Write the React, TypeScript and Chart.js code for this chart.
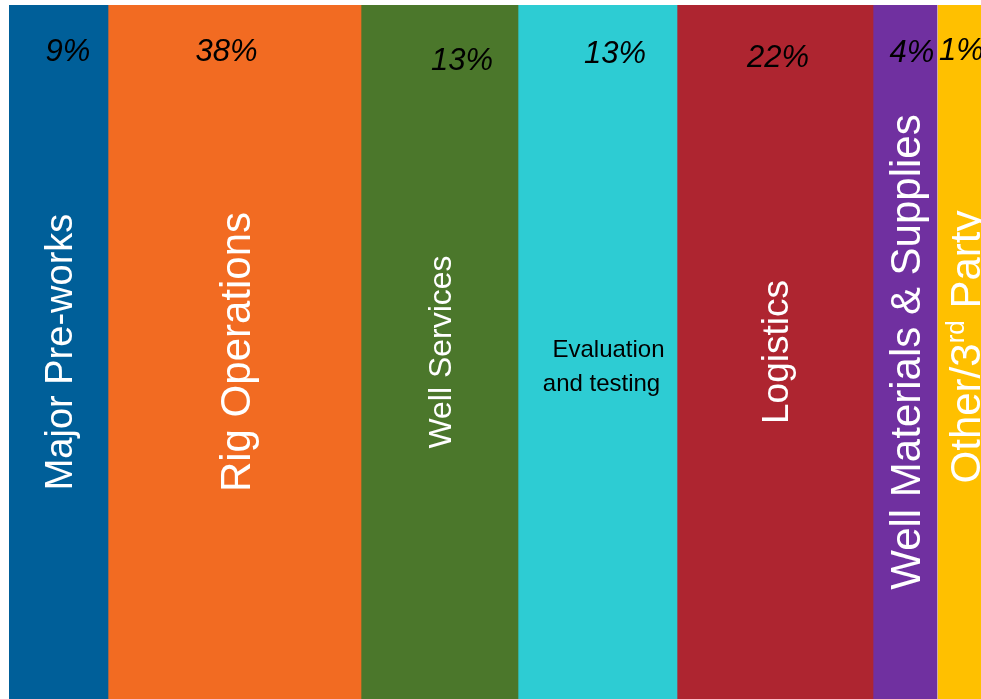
import React, { useEffect, useRef } from "react";
import { Chart, registerables } from "chart.js";

Chart.register(...registerables);

// ---- data ----
const categories = [
  "Major Pre-works",
  "Rig Operations",
  "Well Services",
  "Evaluation and testing",
  "Logistics",
  "Well Materials & Supplies",
  "Other/3rd Party",
];
const shares = [9, 38, 13, 13, 22, 4, 1];
// relative column widths (as drawn in the reference)
const columnWidths = [99, 253, 157, 159, 196, 64, 55];
const totalWidth = 972;

// ---- styles ----
const colors = ["#005F99", "#F26B22", "#4B772B", "#2DCCD3", "#AE2530", "#7030A0", "#FFC000"];
const FONT = '"Liberation Sans", Arial, Helvetica, sans-serif';
const nameFontSizes = [38, 42, 32, 24, 37, 42, 42];
const pctDx = [9.5, -8, 22.5, 17.5, 3, 7, -3];
const pctBaseline = [61, 61, 70, 63, 67, 62, 60];

const labelPlugin = {
  id: "columnLabels",
  afterDatasetsDraw(chart: any) {
    const ctx: CanvasRenderingContext2D = chart.ctx;
    const area = chart.chartArea;
    const cy = (area.top + area.bottom) / 2;
    ctx.save();
    chart.data.datasets.forEach((ds: any, i: number) => {
      const el = chart.getDatasetMeta(i).data[0];
      if (!el) return;
      const p = el.getProps(["x", "base"], true);
      const cx = (p.x + p.base) / 2;
      // percentage label
      ctx.save();
      ctx.fillStyle = "#000";
      ctx.font = `italic 31px ${FONT}`;
      ctx.textAlign = "center";
      ctx.textBaseline = "alphabetic";
      ctx.fillText(`${shares[i]}%`, cx + pctDx[i], pctBaseline[i]);
      ctx.restore();

      const size = nameFontSizes[i];
      const capH = size * 0.716;
      if (i === 3) {
        ctx.save();
        ctx.fillStyle = "#000";
        ctx.font = `${size}px ${FONT}`;
        ctx.textAlign = "center";
        ctx.textBaseline = "alphabetic";
        ctx.fillText("Evaluation", cx + 11, cy + 5);
        ctx.fillText("and testing", cx + 4, cy + 39);
        ctx.restore();
        return;
      }
      ctx.save();
      ctx.translate(cx + capH / 2, cy);
      ctx.rotate(-Math.PI / 2);
      ctx.fillStyle = "#FFFFFF";
      ctx.textBaseline = "alphabetic";
      if (i === 6) {
        const f = `${size}px ${FONT}`;
        const fs = `${Math.round(size * 0.62)}px ${FONT}`;
        ctx.font = f;
        const a = "Other/3";
        const c = " Party";
        const wa = ctx.measureText(a).width;
        const wc = ctx.measureText(c).width;
        ctx.font = fs;
        const wb = ctx.measureText("rd").width;
        const total = wa + wb + wc;
        let x0 = -total / 2 + 5;
        ctx.textAlign = "left";
        ctx.font = f;
        ctx.fillText(a, x0, 0);
        ctx.font = fs;
        ctx.fillText("rd", x0 + wa, -size * 0.36);
        ctx.font = f;
        ctx.fillText(c, x0 + wa + wb, 0);
      } else {
        ctx.font = `${size}px ${FONT}`;
        ctx.textAlign = "center";
        ctx.fillText(categories[i], 0, 0);
      }
      ctx.restore();
    });
    ctx.restore();
  },
};

export default function App() {
  const ref = useRef<HTMLCanvasElement>(null);
  useEffect(() => {
    document.body.style.margin = "0";
    let start = 0;
    const datasets = categories.map((name, i) => {
      const s = start;
      start += columnWidths[i];
      return {
        label: name,
        data: [[s, s + columnWidths[i]]],
        backgroundColor: colors[i],
        borderColor: "#FFFFFF",
        borderWidth: i === 6 ? { left: 1, right: 0, top: 0, bottom: 0 } : 0,
        borderSkipped: false,
        grouped: false,
        barPercentage: 1,
        categoryPercentage: 1,
      };
    });
    const chart = new Chart(ref.current!, {
      type: "bar",
      data: { labels: ["share"], datasets: datasets as any },
      options: {
        indexAxis: "y",
        animation: false,
        responsive: true,
        maintainAspectRatio: false,
        layout: { padding: { left: 9, top: 5, right: 0, bottom: 0 } },
        plugins: { legend: { display: false }, tooltip: { enabled: false } },
        scales: {
          x: { type: "linear", min: 0, max: totalWidth, display: false },
          y: { display: false },
        },
      },
      plugins: [labelPlugin],
    });
    return () => chart.destroy();
  }, []);
  return (
    <div style={{ width: 981, height: 699, position: "relative", background: "#fff" }}>
      <canvas ref={ref} />
    </div>
  );
}
